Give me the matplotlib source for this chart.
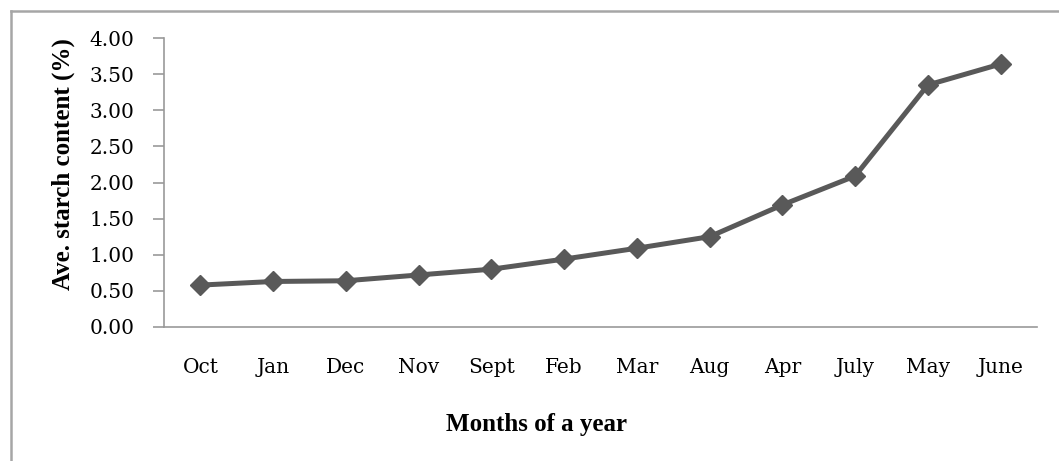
import matplotlib
matplotlib.use("Agg")
from matplotlib import pyplot as plt
from matplotlib.lines import Line2D

months = ['Oct', 'Jan', 'Dec', 'Nov', 'Sept', 'Feb', 'Mar', 'Aug', 'Apr', 'July', 'May', 'June']
starch = [0.58, 0.63, 0.64, 0.72, 0.80, 0.94, 1.09, 1.25, 1.69, 2.09, 3.35, 3.64]
yticks = [0.0, 0.5, 1.0, 1.5, 2.0, 2.5, 3.0, 3.5, 4.0]

plt.rcParams['font.family'] = ['DejaVu Serif', 'Liberation Serif']

W, H = 1059, 461
fig = plt.figure(figsize=(W / 100, H / 100), dpi=100)
ax = fig.add_axes([164 / W, 1 - 327 / H, (1037 - 164) / W, (327 - 38) / H])

x = list(range(len(months)))
ax.plot(x, starch, color='#595959', linewidth=3.6, marker='D', markersize=10.5,
        markerfacecolor='#595959', markeredgecolor='#595959', solid_joinstyle='miter')

ax.set_xlim(-0.5, len(months) - 0.5)
ax.set_ylim(0, 4)
ax.set_yticks(yticks)
ax.set_yticklabels(['%.2f' % v for v in yticks], fontsize=14.5)
ax.set_xticks(x)
ax.set_xticklabels(months, fontsize=14.5)

for side in ['top', 'right']:
    ax.spines[side].set_visible(False)
for side in ['left', 'bottom']:
    ax.spines[side].set_color('#999999')
    ax.spines[side].set_linewidth(1.2)
ax.tick_params(axis='y', direction='out', length=8, width=1.2, color='#999999', pad=13.5)
ax.tick_params(axis='x', length=0, pad=22)

label_font = dict(family='Liberation Serif', fontsize=18, fontweight='bold')
fig.text(536 / W, 1 - 424 / H, 'Months of a year', ha='center', va='center', **label_font)
fig.text(63 / W, 1 - 164 / H, 'Ave. starch content (%)', ha='center', va='center',
         rotation=90, **label_font)

# outer chart border (left and top only visible)
fig.add_artist(Line2D([10.5 / W, 10.5 / W], [0, 1 - 11 / H], color='#a6a6a6', linewidth=1.8))
fig.add_artist(Line2D([10.5 / W, 1], [1 - 11 / H, 1 - 11 / H], color='#a6a6a6', linewidth=1.8))

fig.savefig('out.png', dpi=100)
